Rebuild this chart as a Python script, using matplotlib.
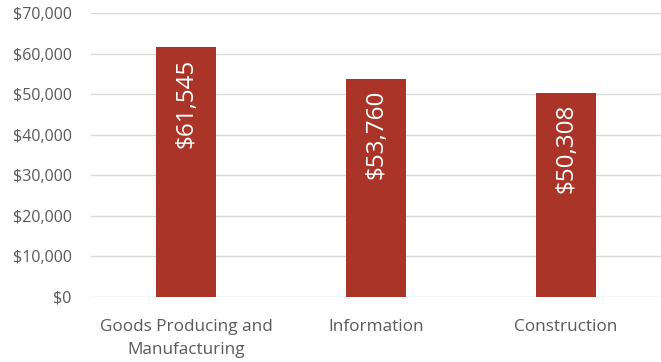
import matplotlib.pyplot as plt
from matplotlib.ticker import FuncFormatter

categories = ["Goods Producing and\nManufacturing", "Information", "Construction"]
values = [61545, 53760, 50308]
yticks = [0, 10000, 20000, 30000, 40000, 50000, 60000, 70000]

plt.rcParams['font.family'] = ['Open Sans', 'DejaVu Sans']

fig = plt.figure(figsize=(6.61, 3.62), dpi=100)
ax = fig.add_axes([0.1377, 0.1796, 0.8623, 0.7845])

x = range(len(categories))
bars = ax.bar(x, values, width=0.316, color='#AB3428', zorder=3)

for xi, v in zip(x, values):
    ax.annotate("${:,}".format(v), (xi, v), xytext=(0, -8), textcoords='offset points',
                rotation=90, ha='center', va='top', color='white', fontsize=17.5)

ax.set_xlim(-0.5, 2.5)
ax.set_ylim(0, 70000)
ax.set_yticks(yticks)
ax.yaxis.set_major_formatter(FuncFormatter(lambda v, p: "${:,.0f}".format(v)))
ax.set_xticks(list(x))
ax.set_xticklabels(categories, fontsize=12.3, color='#595959', linespacing=1.55)
ax.tick_params(axis='y', labelsize=11.5, labelcolor='#595959', length=0, pad=14)
ax.tick_params(axis='x', length=0, pad=16)
ax.grid(axis='y', color='#D9D9D9', linewidth=1, zorder=0)
for s in ax.spines.values():
    s.set_visible(False)

fig.savefig("out.png", dpi=100)
